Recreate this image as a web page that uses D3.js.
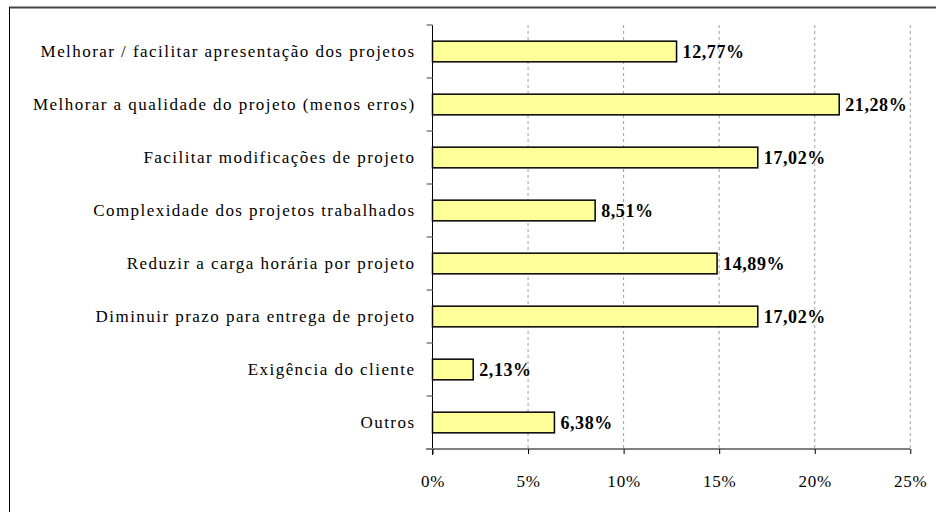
<!DOCTYPE html>
<html>
<head>
<meta charset="utf-8">
<script src="https://cdn.jsdelivr.net/npm/d3@7"></script>
<style>
  body { margin: 0; background: #fff; }
  svg text { font-family: 'Liberation Serif', 'Times New Roman', Times, serif !important; }
</style>
</head>
<body>
<svg id="chart" width="936" height="512"></svg>
<script>
// categories, top to bottom
var categories = [
  "Melhorar / facilitar apresentação dos projetos",
  "Melhorar a qualidade do projeto (menos erros)",
  "Facilitar modificações de projeto",
  "Complexidade dos projetos trabalhados",
  "Reduzir a carga horária por projeto",
  "Diminuir prazo para entrega de projeto",
  "Exigência do cliente",
  "Outros"
];
var values = [12.77, 21.28, 17.02, 8.51, 14.89, 17.02, 2.13, 6.38];
var valueLabels = ["12,77%", "21,28%", "17,02%", "8,51%", "14,89%", "17,02%", "2,13%", "6,38%"];
var xTicks = [0, 5, 10, 15, 20, 25];

var serif = "'Liberation Serif', 'Times New Roman', serif";
var svg = d3.select("svg#chart").attr("font-family", serif);

// frame (only top and left edges show)
svg.append("line")
    .attr("x1", 9).attr("x2", 936).attr("y1", 7.5).attr("y2", 7.5)
    .attr("stroke", "#444").attr("stroke-width", 2);
svg.append("line")
    .attr("x1", 9.5).attr("x2", 9.5).attr("y1", 7).attr("y2", 512)
    .attr("stroke", "#000").attr("stroke-width", 1);

var x = d3.scaleLinear().domain([0, 25]).range([432.5, 910.3]);
var y = d3.scaleBand().domain(categories).range([25, 449]).paddingInner(0.61).paddingOuter(0.305);
var band = d3.scaleBand().domain(categories).range([25, 449]);

// gridlines
svg.append("g").selectAll("line")
    .data(xTicks.filter(function(d) { return d > 0; }))
    .enter().append("line")
    .attr("x1", function(d) { return x(d); })
    .attr("x2", function(d) { return x(d); })
    .attr("y1", 25).attr("y2", 449)
    .attr("stroke", "#a0a0a0")
    .attr("stroke-width", 1)
    .attr("stroke-dasharray", "3,3");

// bars
svg.append("g").selectAll("rect")
    .data(values)
    .enter().append("rect")
    .attr("x", x(0))
    .attr("y", function(d, i) { return y(categories[i]); })
    .attr("width", function(d) { return x(d) - x(0); })
    .attr("height", y.bandwidth())
    .attr("fill", "#ffff99")
    .attr("stroke", "#000")
    .attr("stroke-width", 1.5);

// value labels
svg.append("g").selectAll("text")
    .data(values)
    .enter().append("text")
    .attr("x", function(d) { return x(d) + 6; })
    .attr("y", function(d, i) { return y(categories[i]) + y.bandwidth() / 2; })
    .attr("dy", "0.35em")
    .attr("font-size", "18px")
    .attr("font-weight", "bold")
    .attr("letter-spacing", "0.6px")
    .text(function(d, i) { return valueLabels[i]; });

// y axis
var yAxis = svg.append("g")
    .attr("transform", "translate(" + x(0) + ",0)");
yAxis.append("line")
    .attr("x1", 0).attr("x2", 0).attr("y1", 25).attr("y2", 455)
    .attr("stroke", "#000").attr("stroke-width", 1);
yAxis.selectAll("line.tick")
    .data(categories.concat(["_end"]))
    .enter().append("line")
    .attr("class", "tick")
    .attr("x1", -6).attr("x2", 0)
    .attr("y1", function(d, i) { return i < categories.length ? band(d) : 449; })
    .attr("y2", function(d, i) { return i < categories.length ? band(d) : 449; })
    .attr("stroke", "#808080").attr("stroke-width", 1.5);
yAxis.selectAll("text")
    .data(categories)
    .enter().append("text")
    .attr("x", -17)
    .attr("y", function(d) { return band(d) + band.bandwidth() / 2; })
    .attr("dy", "0.35em")
    .attr("text-anchor", "end")
    .attr("font-size", "17px")
    .attr("letter-spacing", "1.45px")
    .text(function(d) { return d; });

// x axis
var xAxis = svg.append("g")
    .attr("transform", "translate(0,449)")
    .call(d3.axisBottom(x).tickValues(xTicks).tickSize(5).tickPadding(21)
      .tickFormat(function(d) { return d + "%"; }));
xAxis.attr("font-family", serif);
xAxis.select(".domain").attr("stroke", "#808080").attr("stroke-width", 2)
    .attr("d", "M426,0H" + x(25));
xAxis.selectAll(".tick line").attr("stroke", "#000");
xAxis.selectAll(".tick text")
    .attr("font-size", "17px")
    .attr("letter-spacing", "0.8px")
    .attr("fill", "#000");
</script>
</body>
</html>
